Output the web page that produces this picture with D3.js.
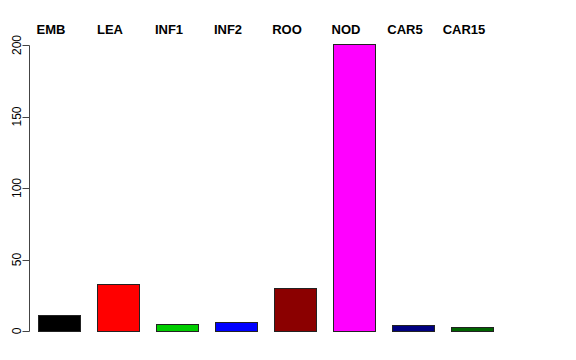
<!DOCTYPE html>
<html>
<head>
    <style>
        body { margin: 0; background: #fff; }
        svg { font-family: "Liberation Sans", Arial, sans-serif; }
    </style>
</head>
<body>
<div id="chart"></div>
<script src="https://d3js.org/d3.v7.min.js"></script>
<script>
    const categories = ["EMB", "LEA", "INF1", "INF2", "ROO", "NOD", "CAR5", "CAR15"];
    const values = [11, 33, 5, 6.5, 30, 201, 4.3, 2.8];
    const barColors = ["#000000", "#FF0000", "#00CD00", "#0000FF", "#8B0000", "#FF00FF", "#000080", "#006400"];
    const yTicks = [0, 50, 100, 150, 200];

    const width = 576, height = 360;

    const svg = d3.select("#chart").append("svg")
        .attr("width", width)
        .attr("height", height);

    const x = d3.scaleBand()
        .domain(categories)
        .range([29.5, 501.5])
        .paddingInner(0.288)
        .paddingOuter(0.144);

    const y = d3.scaleLinear()
        .domain([0, 200])
        .range([331, 45]);

    // bars
    svg.append("g")
        .selectAll("rect")
        .data(categories)
        .enter().append("rect")
        .attr("x", d => Math.round(x(d)) + 0.5)
        .attr("y", (d, i) => Math.round(y(values[i])) + 0.5)
        .attr("width", Math.round(x.bandwidth()))
        .attr("height", (d, i) => Math.round(y(0)) - Math.round(y(values[i])))
        .attr("fill", (d, i) => barColors[i])
        .attr("stroke", "#222")
        .attr("stroke-width", 1);

    // y axis, R style
    const axis = svg.append("g")
        .attr("transform", "translate(29.5,0)");

    axis.append("line")
        .attr("y1", Math.round(y(0)) + 0.5)
        .attr("y2", Math.round(y(200)) + 0.5)
        .attr("stroke", "#444");

    axis.selectAll(".tick")
        .data(yTicks)
        .enter().append("line")
        .attr("x1", -7)
        .attr("x2", 0)
        .attr("y1", d => Math.round(y(d)) + 0.5)
        .attr("y2", d => Math.round(y(d)) + 0.5)
        .attr("stroke", "#444");

    axis.selectAll("text")
        .data(yTicks)
        .enter().append("text")
        .attr("transform", d => `translate(-8.5,${y(d)}) rotate(-90)`)
        .attr("text-anchor", "middle")
        .attr("font-size", 12)
        .attr("fill", "#000")
        .text(d => d);

    // category labels on top
    svg.append("g")
        .selectAll("text")
        .data(categories)
        .enter().append("text")
        .attr("x", d => x(d) + x.bandwidth() / 2 - 8)
        .attr("y", 34)
        .attr("text-anchor", "middle")
        .attr("font-size", 13)
        .attr("font-weight", "bold")
        .text(d => d);
</script>
</body>
</html>
